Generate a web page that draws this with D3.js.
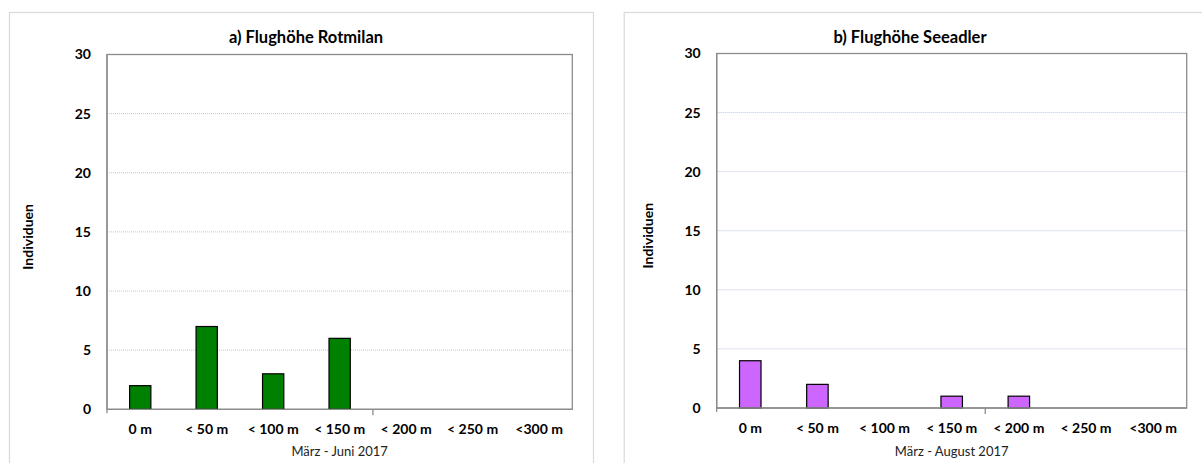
<!DOCTYPE html>
<html>
<head>
<meta charset="utf-8">
<script src="https://cdn.jsdelivr.net/npm/d3@7"></script>
<style>
  html, body { margin: 0; padding: 0; background: #fff; }
  svg { display: block; font-family: Lato, "Open Sans", sans-serif; }
</style>
</head>
<body>
<svg id="chart" width="1202" height="463"></svg>
<script>
const categories = ["0 m", "< 50 m", "< 100 m", "< 150 m", "< 200 m", "< 250 m", "<300 m"];
const rotmilanValues = [2, 7, 3, 6, 0, 0, 0];
const seeadlerValues = [4, 2, 0, 1, 1, 0, 0];
const yTicks = [0, 5, 10, 15, 20, 25, 30];
const titles = ["a) Flughöhe Rotmilan", "b) Flughöhe Seeadler"];
const periods = ["März - Juni 2017", "März  - August  2017"];
const yTitle = "Individuen";

const svg = d3.select("#chart");

const panels = [
  { box: [9, 12, 584, 470], plot: [107, 54.5, 572.3, 409.3], titleX: 306, yTitleX: 28, values: rotmilanValues, color: "#008000", title: titles[0], period: periods[0] },
  { box: [623.7, 12, 590, 470], plot: [716.7, 53.5, 1186.7, 408], titleX: 910, yTitleX: 648, values: seeadlerValues, color: "#cc66ff", title: titles[1], period: periods[1] }
];

panels.forEach(p => {
  const [bx, by, bw, bh] = p.box;
  svg.append("rect").attr("x", bx + 0.5).attr("y", by + 0.5).attr("width", bw).attr("height", bh)
    .attr("fill", "#fff").attr("stroke", "#d9d9d9").attr("stroke-width", 1.2);

  const [x0, y0, x1, y1] = p.plot;
  const x = d3.scaleBand().domain(categories).range([x0, x1]).paddingInner(0.68).paddingOuter(0.34);
  const y = d3.scaleLinear().domain([0, 30]).range([y1, y0]);

  const g = svg.append("g");

  // gridlines
  g.selectAll("line.grid").data(yTicks.filter(t => t > 0 && t < 30)).enter().append("line")
    .attr("x1", x0).attr("x2", x1).attr("y1", d => y(d)).attr("y2", d => y(d))
    .attr("stroke", "#b4c7e7").attr("stroke-width", 1).attr("stroke-dasharray", "1,1");

  // plot border
  g.append("rect").attr("x", x0).attr("y", y0).attr("width", x1 - x0).attr("height", y1 - y0)
    .attr("fill", "none").attr("stroke", "#8c8c8c").attr("stroke-width", 1.3);

  // bars
  g.selectAll("rect.bar").data(p.values.map((v, i) => ({ c: categories[i], v })).filter(d => d.v > 0))
    .enter().append("rect")
    .attr("x", d => x(d.c)).attr("y", d => y(d.v))
    .attr("width", x.bandwidth()).attr("height", d => y(0) - y(d.v))
    .attr("fill", p.color).attr("stroke", "#000").attr("stroke-width", 1.2);

  // y axis
  const yAxis = d3.axisLeft(y).tickValues(yTicks).tickSize(0).tickPadding(16);
  const ya = g.append("g").attr("transform", `translate(${x0},0)`).call(yAxis);
  ya.select(".domain").remove();
  ya.selectAll("text").attr("font-size", 14).attr("font-weight", "bold").attr("fill", "#000")
    .attr("font-family", "Lato, 'Open Sans', sans-serif");
  g.append("line").attr("x1", x0).attr("x2", x0).attr("y1", y0).attr("y2", y1 + 4)
    .attr("stroke", "#8c8c8c").attr("stroke-width", 1.3);

  // x axis
  const xAxis = d3.axisBottom(x).tickSize(0).tickPadding(15);
  const xa = g.append("g").attr("transform", `translate(0,${y1})`).call(xAxis);
  xa.select(".domain").remove();
  xa.selectAll("text").attr("font-size", 14).attr("font-weight", "bold").attr("fill", "#000")
    .attr("font-family", "Lato, 'Open Sans', sans-serif");
  g.append("line").attr("x1", x0).attr("x2", x1).attr("y1", y1).attr("y2", y1)
    .attr("stroke", "#8c8c8c").attr("stroke-width", 1.3);
  const tx = (x(categories[3]) + x.bandwidth() / 2 + x(categories[4]) + x.bandwidth() / 2) / 2;
  g.append("line").attr("x1", tx).attr("x2", tx).attr("y1", y1).attr("y2", y1 + 6)
    .attr("stroke", "#8c8c8c").attr("stroke-width", 1.3);

  // title
  svg.append("text").attr("x", p.titleX).attr("y", 43).attr("text-anchor", "middle")
    .attr("font-size", 16.5).attr("font-weight", "bold").text(p.title);

  // y title
  svg.append("text").attr("transform", `translate(${p.yTitleX + 5},${(y0 + y1) / 2 + 5}) rotate(-90)`)
    .attr("text-anchor", "middle").attr("font-size", 14).attr("font-weight", "bold").text(yTitle);

  // x title
  svg.append("text").attr("x", (x0 + x1) / 2).attr("y", 456).attr("text-anchor", "middle")
    .attr("font-size", 13).attr("fill", "#222").text(p.period);
});
</script>
</body>
</html>
